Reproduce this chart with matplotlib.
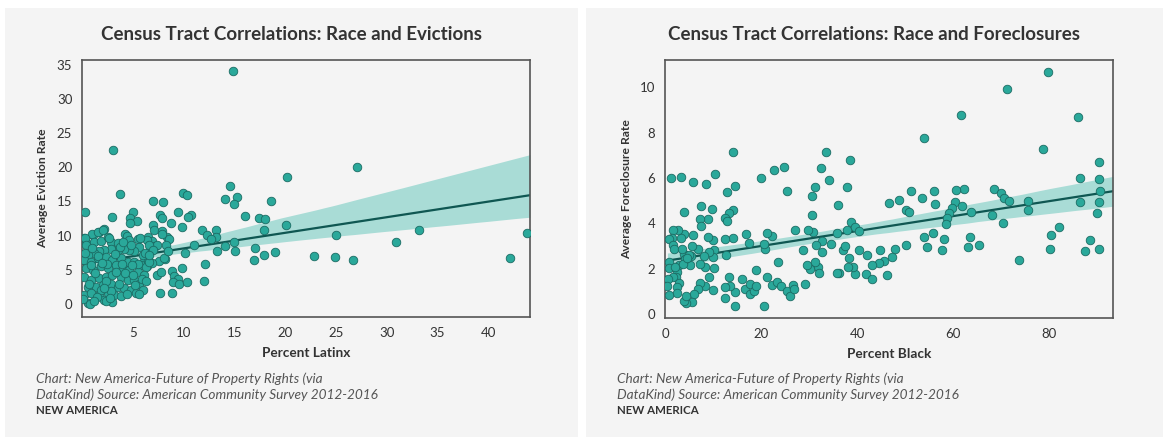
import numpy as np
import matplotlib
matplotlib.use('Agg')
import matplotlib.pyplot as plt
from matplotlib.patches import Rectangle

plt.rcParams['font.family'] = ['Lato', 'DejaVu Sans']

# Left chart: percent Latinx vs average eviction rate
latinx = [14.88, 3.05, 27.1, 20.2, 14.6, 3.75, 9.9, 10.3, 14.1, 15.3, 14.95, 6.95, 8.0, 18.6,
          0.25, 3.0, 5.0, 9.45, 10.7, 10.4, 16.0, 17.4, 18.0, 4.75, 5.4, 4.7, 7.7, 7.9, 8.75,
          9.8, 7.0, 7.1, 7.9, 2.2, 1.7, 1.05, 13.2, 11.8, 17.9, 20.1, 33.2, 43.8, 25.0, 30.9,
          12.3, 13.2, 12.7, 15.0, 11.0, 14.1, 13.3, 15.1, 17.05, 19.0, 17.9, 16.9, 22.8, 24.9,
          26.7, 42.1, 10.1, 12.1, 12.0, 9.8, 8.9, 9.1, 9.45, 9.0, 9.5, 10.3, 7.7, 8.9, 7.4,
          7.8, 8.4, 8.6, 8.3, 8.2, 7.6, 7.9, 6.5, 6.9, 7.2, 6.7, 6.4, 6.1, 6.4, 6.9,
          8.1, 8.43, 7.38,
          0.16, 0.95, 1.54, 2.1, 0.4, 1.15, 1.87, 2.52, 2.85, 3.5, 4.23, 4.43, 4.66, 5.48,
          5.64, 6.4, 6.62, 6.95, 6.46, 5.97, 5.15, 4.66, 4.16, 3.5, 2.85, 2.2, 1.7, 1.21,
          0.56, 0.23, 0.89, 1.54, 2.36, 3.0, 3.84, 4.5, 5.15, 5.8, 6.3, 6.62, 0.39, 1.05,
          1.87, 2.52, 3.34, 4.0, 4.66, 5.48, 6.13, 0.23, 0.89, 1.7, 2.36, 3.0, 3.84, 4.5,
          5.15, 5.64, 0.56, 1.38, 2.03, 2.85, 3.5, 4.16, 4.82, 5.3, 0.23, 0.89, 1.7, 2.52,
          3.18, 3.84, 0.56, 2.2, 3.0, 0.07, 0.8, 2.4,
          0.25, 0.43, 0.3, 1.6, 2.5, 3.3, 4.2, 5.2, 5.5, 5.9, 6.0, 5.6, 3.7, 4.0, 2.7, 2.0,
          1.3, 0.7, 2.9, 4.4, 3.2, 1.0, 2.4, 4.9, 1.9, 3.6, 4.8, 6.2, 5.7, 6.6, 0.9, 1.5,
          2.8, 3.9, 5.0, 6.3, 1.2, 2.2]
eviction = [34.1, 22.5, 20.0, 18.6, 17.3, 16.1, 16.3, 15.9, 15.4, 15.6, 14.7, 15.0, 14.9, 15.0,
            13.4, 12.8, 13.5, 13.5, 13.0, 12.8, 12.9, 12.6, 12.5, 12.6, 12.2, 11.9, 13.0, 12.6, 11.9,
            11.3, 11.6, 10.9, 10.7, 11.0, 10.6, 10.1, 10.8, 10.8, 10.8, 11.5, 10.8, 10.4, 10.1, 9.1,
            10.1, 9.75, 9.5, 9.1, 8.7, 8.5, 7.8, 7.8, 8.2, 7.6, 7.1, 6.4, 7.0, 6.9,
            6.4, 6.7, 7.4, 5.9, 3.4, 5.2, 4.8, 4.1, 3.6, 3.2, 2.9, 3.2, 1.6, 1.6, 4.3,
            4.7, 9.8, 9.5, 8.7, 6.6, 6.3, 10.2, 9.85, 9.2, 8.5, 7.7, 7.1, 6.3, 5.5, 6.0,
            6.7, 7.7, 8.6,
            9.6, 10.2, 10.5, 10.9, 8.9, 9.0, 9.2, 9.8, 9.1, 8.9, 10.3, 9.9, 9.4, 9.5,
            8.4, 9.4, 8.6, 7.9, 6.4, 7.2, 7.7, 7.9, 8.1, 7.9, 8.1, 7.9, 7.7, 7.4,
            7.2, 6.4, 6.2, 6.7, 6.9, 6.4, 6.7, 6.2, 6.2, 5.7, 5.4, 6.2, 5.2, 5.0,
            5.5, 5.2, 5.7, 5.2, 5.0, 4.7, 4.2, 4.0, 3.5, 3.8, 4.0, 4.2, 4.0, 3.5,
            3.5, 3.0, 2.5, 2.5, 2.8, 3.0, 2.5, 2.3, 2.0, 1.6, 1.3, 1.6, 1.3, 1.6,
            1.3, 1.1, 0.1, 0.6, 0.3, 0.8, 0.0, 0.4,
            9.65, 8.7, 7.5, 7.0, 5.9, 4.7, 4.5, 2.8, 5.9, 3.6, 2.0, 1.4, 8.4, 9.0, 9.7, 6.0,
            4.5, 3.0, 1.9, 1.5, 7.3, 8.2, 3.3, 5.7, 2.1, 3.0, 8.6, 7.5, 9.6, 7.1, 5.7, 1.0,
            0.9, 5.9, 4.3, 3.3, 0.5, 2.4]

# Right chart: percent Black vs average foreclosure rate
black = [79.8, 71.2, 61.7, 86.0, 54.0, 78.8, 14.2, 33.6, 38.6, 90.3, 24.7, 22.6, 32.4, 10.5,
         1.25, 3.35, 5.8, 8.5, 14.6, 19.9, 34.2, 13.0, 25.5, 31.2, 37.9, 86.4, 90.3, 90.6,
         90.3, 86.4, 68.6, 70.0, 70.5, 71.6, 75.7, 75.6, 62.3, 60.7, 51.3, 56.0, 53.5, 56.2,
         48.7, 46.6, 50.2, 50.8, 60.4, 59.8, 61.8, 59.2, 58.8, 58.6, 63.7, 68.1, 70.4, 90.0,
         82.0, 80.3, 80.2, 87.5, 88.6, 90.3, 73.7, 63.5, 63.2, 65.3, 58.2, 57.7, 55.9, 54.0,
         54.5, 50.2, 47.9, 47.3, 45.7, 44.5, 43.1, 44.8, 46.3, 42.0, 40.3, 41.8, 43.2, 39.5,
         39.1, 38.4, 38.2, 36.3, 35.8, 37.0, 37.5, 37.8, 38.7, 39.6, 40.5, 35.8, 36.0, 34.5,
         32.6, 32.7, 31.8, 32.0, 31.3, 30.3, 29.6, 31.5, 30.8, 29.8, 30.7, 30.7, 28.7, 29.2,
         27.1, 23.6, 22.3, 21.2, 20.8, 20.7, 19.0, 21.2, 20.7, 22.2, 23.4, 24.1, 25.5, 26.0,
         26.6, 26.9, 16.8, 17.4, 16.0, 16.7, 17.8, 17.7, 18.6, 19.0, 14.6, 14.5, 13.3, 13.6,
         12.4, 12.5, 12.8, 14.2, 12.5, 14.2, 13.4, 12.4, 13.0, 9.9, 10.3, 9.9, 10.3, 10.1,
         9.1, 9.2, 9.0, 9.0, 9.7, 7.2, 7.6, 7.6, 8.4, 7.3, 6.8, 8.2, 8.4, 7.2, 6.8, 6.0,
         5.6, 5.8, 5.5, 5.3, 5.6, 4.4, 3.9, 4.4, 4.0, 4.0, 3.9, 4.1, 3.4, 2.7, 1.6, 1.5,
         0.8, 1.7, 1.9, 2.9, 2.5, 2.3, 1.6, 3.0, 2.4, 2.6, 0.9, 0.8, 0.6, 0.5, 0.8, 2.0,
         3.6, 3.8, 5.0, 4.6]
foreclosure = [10.68, 9.94, 8.79, 8.70, 7.74, 7.29, 7.14, 7.15, 6.80, 6.68, 6.50, 6.36, 6.45, 6.18,
               6.0, 6.03, 5.84, 5.72, 5.66, 5.99, 5.9, 5.37, 5.43, 5.58, 5.62, 5.99, 5.93, 5.43,
               4.94, 4.93, 5.53, 5.34, 5.13, 4.97, 4.97, 4.57, 5.49, 5.46, 5.44, 5.43, 5.12, 4.87,
               5.03, 4.9, 4.6, 4.5, 4.93, 4.68, 4.78, 4.45, 4.23, 3.98, 4.51, 4.38, 4.03, 4.44,
               3.82, 3.5, 2.86, 2.79, 3.27, 2.86, 2.39, 3.38, 2.96, 3.02, 3.32, 2.83, 3.57, 3.38,
               2.94, 3.02, 2.86, 2.52, 2.35, 2.26, 2.17, 2.82, 1.71, 2.61, 2.82, 1.77, 1.56, 1.77,
               2.09, 2.45, 2.08, 1.8, 1.8, 2.83, 2.98, 3.72, 4.04, 3.82, 3.64, 3.57, 4.79, 3.08,
               3.22, 2.74, 2.09, 1.8, 2.3, 2.0, 2.15, 3.04, 3.61, 3.72, 4.37, 5.19, 2.83, 1.33,
               3.69, 2.29, 3.42, 3.57, 2.88, 3.08, 1.95, 1.62, 0.35, 1.27, 1.39, 1.21, 1.03, 0.8,
               1.27, 1.09, 3.52, 3.11, 1.55, 1.12, 1.31, 0.86, 1.02, 1.21, 0.35, 0.96, 1.61, 1.24,
               0.72, 1.17, 2.58, 3.33, 3.32, 4.57, 4.45, 4.23, 4.11, 3.27, 2.83, 2.49, 2.02, 1.06,
               1.62, 2.71, 3.39, 4.2, 4.63, 4.2, 3.89, 4.76, 2.09, 2.2, 2.86, 2.54, 1.25, 1.36,
               1.08, 0.86, 2.98, 3.47, 2.54, 2.15, 0.53, 0.47, 0.56, 0.77, 4.51, 3.52, 2.65, 2.42,
               3.36, 3.72, 3.72, 3.36, 3.32, 3.02, 2.88, 2.15, 1.83, 1.61, 1.61, 1.36, 1.18, 0.94,
               2.29, 2.01, 1.53, 1.24, 0.84, 2.09, 2.86, 2.18, 2.58, 2.48]

source_note = ["Chart: New America-Future of Property Rights (via",
               "DataKind) Source: American Community Survey 2012-2016"]

BG = '#f4f4f4'
DOT = '#2aa89a'
EDGE = '#1b6b63'
LINE = '#0f5752'
BAND = '#a9dcd6'
TXT = '#333333'

W, H = 1168, 447
fig = plt.figure(figsize=(W / 100, H / 100), dpi=100, facecolor='white')


def px(x0, y0, x1, y1):
    return [x0 / W, 1 - y1 / H, (x1 - x0) / W, (y1 - y0) / H]


def regline(ax, x, y, xmax):
    # OLS fit with a bootstrapped 95% band, same idea as seaborn's regplot
    x = np.asarray(x)
    y = np.asarray(y)
    xs = np.linspace(x.min(), xmax, 100)
    b, a = np.polyfit(x, y, 1)
    yf = a + b * xs
    rng = np.random.default_rng(0)
    n = len(x)
    boots = []
    for _ in range(1000):
        idx = rng.integers(0, n, n)
        bb, aa = np.polyfit(x[idx], y[idx], 1)
        boots.append(aa + bb * xs)
    lo, hi = np.percentile(np.array(boots), [2.5, 97.5], axis=0)
    ax.fill_between(xs, lo, hi, color=BAND, lw=0, zorder=1)
    ax.plot(xs, yf, color=LINE, lw=1.6, zorder=2)


panels = [
    dict(bg=(5, 8, 578, 437), ax=(82, 60, 530, 317), x=latinx, y=eviction,
         title='Census Tract Correlations: Race and Evictions',
         xlabel='Percent Latinx', ylabel='Average Eviction Rate',
         xlim=(0, 44.1), ylim=(-1.9, 35.7), xticks=range(5, 45, 5), yticks=range(0, 40, 5)),
    dict(bg=(586, 8, 1163, 437), ax=(665, 60, 1113, 318), x=black, y=foreclosure,
         title='Census Tract Correlations: Race and Foreclosures',
         xlabel='Percent Black', ylabel='Average Foreclosure Rate',
         xlim=(0, 93.3), ylim=(-0.18, 11.2), xticks=range(0, 100, 20), yticks=range(0, 12, 2)),
]

for p in panels:
    x0, y0, x1, y1 = p['bg']
    fig.patches.append(Rectangle((x0 / W, 1 - y1 / H), (x1 - x0) / W, (y1 - y0) / H,
                                 transform=fig.transFigure, facecolor=BG, edgecolor='none', zorder=-10))
    cx = (x0 + x1) / 2 / W
    fig.text(cx, 1 - 34 / H, p['title'], ha='center', va='center', fontsize=13.5,
             fontweight='bold', color=TXT)
    fig.text((x0 + 31) / W, 1 - 379 / H, source_note[0], fontsize=9.8, style='italic', color='#555555', va='center')
    fig.text((x0 + 31) / W, 1 - 395 / H, source_note[1], fontsize=9.8, style='italic', color='#555555', va='center')
    fig.text((x0 + 31) / W, 1 - 411 / H, 'NEW AMERICA', fontsize=8.3, fontweight='bold', color='#333333', va='center')

    ax = fig.add_axes(px(*p['ax']))
    ax.set_facecolor(BG)
    regline(ax, p['x'], p['y'], p['xlim'][1])
    ax.scatter(p['x'], p['y'], s=38, color=DOT, edgecolor=EDGE, linewidth=0.6, zorder=3)
    ax.set_xlim(*p['xlim'])
    ax.set_ylim(*p['ylim'])
    ax.set_xticks(list(p['xticks']))
    ax.set_yticks(list(p['yticks']))
    ax.tick_params(length=0, labelsize=9.5, labelcolor=TXT, pad=7)
    for sp in ax.spines.values():
        sp.set_color('#555555')
        sp.set_linewidth(1.2)
    ax.set_xlabel(p['xlabel'], fontsize=9.8, fontweight='bold', color=TXT, labelpad=6)
    ax.set_ylabel(p['ylabel'], fontsize=8.7, fontweight='bold', color=TXT, labelpad=6)

fig.savefig('out.png', dpi=100, facecolor='white')
